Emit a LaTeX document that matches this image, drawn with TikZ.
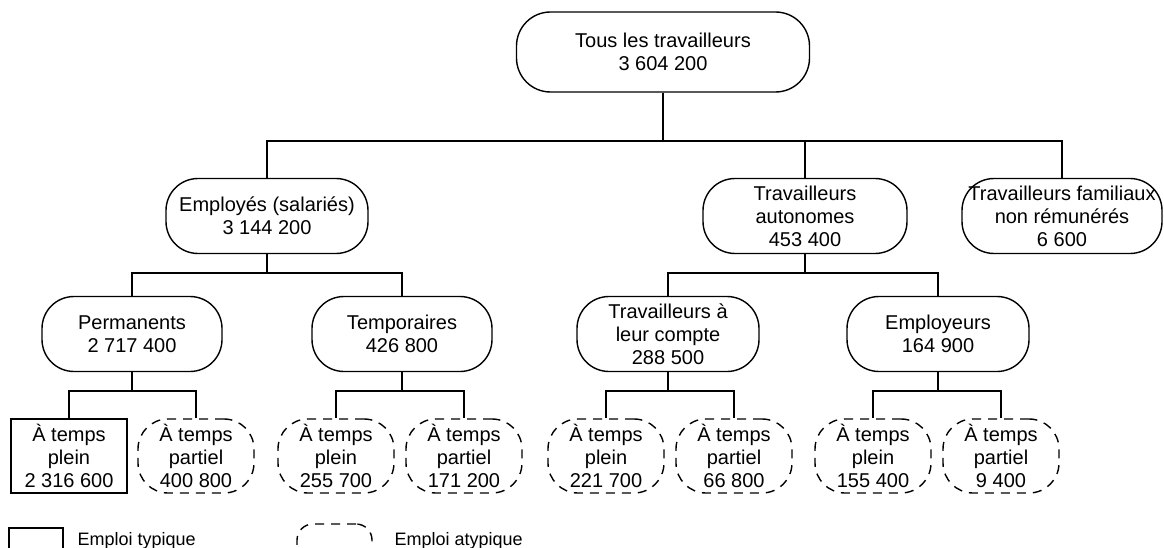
\documentclass[tikz,border=0pt]{standalone}
\usepackage{fontspec}
\setmainfont{Liberation Sans}

\begin{document}
\begin{tikzpicture}[x=1pt, y=-1pt, line width=1.4pt,
    every node/.style={font=\fontsize{20}{23}\selectfont, align=center, inner sep=1pt},
    cat/.style={draw=black, rounded corners=32pt, minimum height=75pt},
    typ/.style={draw=black, minimum width=116pt, minimum height=74pt},
    atyp/.style={draw=black, dash pattern=on 9pt off 7pt, rounded corners=30pt,
                 minimum width=116pt, minimum height=74pt},
    legtext/.style={font=\fontsize{18}{20}\selectfont, anchor=base west}]
	\useasboundingbox (0, 0) rectangle (1164, 548);
	% top level
	\node[cat, minimum width=293pt, minimum height=80pt, rounded corners=34pt] (all) at (663, 52) {Tous les travailleurs\\3 604 200};
	% first split
	\node[cat, minimum width=202pt] (emp) at (267, 216)  {Employés (salariés)\\3 144 200};
	\node[cat, minimum width=204pt] (aut) at (805, 216)  {Travailleurs\\autonomes\\453 400};
	\node[cat, minimum width=200pt] (fam) at (1062, 216) {Travailleurs familiaux\\non rémunérés\\6 600};
	% second split
	\node[cat, minimum width=180pt] (perm)   at (132, 334) {Permanents\\2 717 400};
	\node[cat, minimum width=180pt] (temp)   at (402, 334) {Temporaires\\426 800};
	\node[cat, minimum width=182pt] (compte) at (668, 334) {Travailleurs à\\leur compte\\288 500};
	\node[cat, minimum width=182pt] (empl)   at (938, 334) {Employeurs\\164 900};
	% full / part time
	\node[typ]  (perm-tp)    at (69, 456)   {À temps\\plein\\2 316 600};
	\node[atyp] (perm-tpa)   at (196, 456)  {À temps\\partiel\\400 800};
	\node[atyp] (temp-tp)    at (336, 456)  {À temps\\plein\\255 700};
	\node[atyp] (temp-tpa)   at (464, 456)  {À temps\\partiel\\171 200};
	\node[atyp] (compte-tp)  at (606, 456)  {À temps\\plein\\221 700};
	\node[atyp] (compte-tpa) at (734, 456)  {À temps\\partiel\\66 800};
	\node[atyp] (empl-tp)    at (873, 456)  {À temps\\plein\\155 400};
	\node[atyp] (empl-tpa)   at (1001, 456) {À temps\\partiel\\9 400};
	% junctions
	\coordinate (j-all)    at (663, 141);
	\coordinate (j-emp)    at (267, 273);
	\coordinate (j-aut)    at (805, 273);
	\coordinate (j-perm)   at (132, 391);
	\coordinate (j-temp)   at (402, 391);
	\coordinate (j-compte) at (668, 391);
	\coordinate (j-empl)   at (938, 391);
    \draw (all) -- (j-all) (j-all) -| (emp) (j-all) -| (aut) (j-all) -| (fam);
    \draw (emp) -- (j-emp) (j-emp) -| (perm) (j-emp) -| (temp);
    \draw (aut) -- (j-aut) (j-aut) -| (compte) (j-aut) -| (empl);
    \draw (perm) -- (j-perm) (j-perm) -| (perm-tp) (j-perm) -| (perm-tpa);
    \draw (temp) -- (j-temp) (j-temp) -| (temp-tp) (j-temp) -| (temp-tpa);
    \draw (compte) -- (j-compte) (j-compte) -| (compte-tp) (j-compte) -| (compte-tpa);
    \draw (empl) -- (j-empl) (j-empl) -| (empl-tp) (j-empl) -| (empl-tpa);
	% legend
	\node[typ, minimum width=54pt, minimum height=36pt] (leg-typ) at (36, 546) {};
	\node[atyp, minimum width=75pt, minimum height=40pt, rounded corners=16pt] (leg-atyp) at (334.5, 544) {};
	\node[legtext] (leg-typ-txt)  at (76, 545)  {Emploi typique};
	\node[legtext] (leg-atyp-txt) at (393, 545) {Emploi atypique};
	\end{tikzpicture}
\end{document}
